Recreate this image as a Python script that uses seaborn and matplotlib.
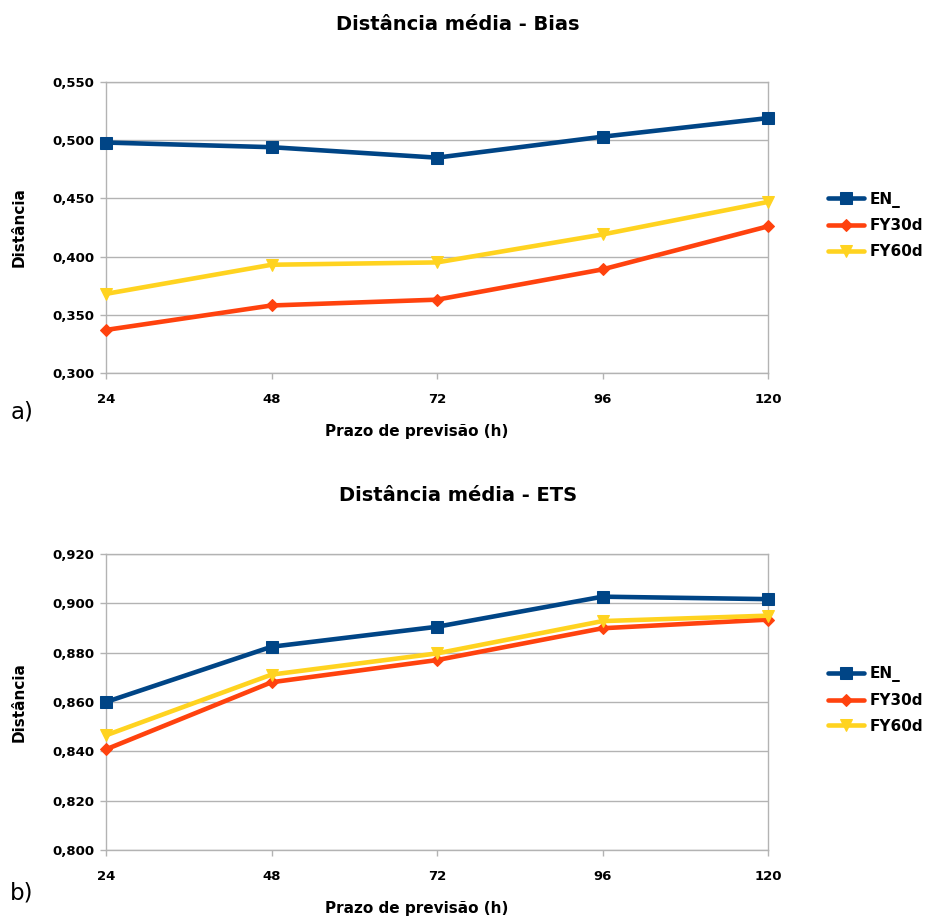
import matplotlib
matplotlib.use("Agg")
import matplotlib.pyplot as plt
import seaborn as sns
import pandas as pd
from matplotlib.ticker import FuncFormatter

sns.set_theme(style="white")
plt.rcParams['font.family'] = ['DejaVu Sans']
plt.rcParams['text.color'] = 'black'
plt.rcParams['axes.labelcolor'] = 'black'
plt.rcParams['xtick.labelcolor'] = 'black'
plt.rcParams['ytick.labelcolor'] = 'black'

hours = [24, 48, 72, 96, 120]
series = ["EN_", "FY30d", "FY60d"]
bias_en = [0.498, 0.494, 0.485, 0.503, 0.519]
bias_fy30 = [0.337, 0.358, 0.363, 0.389, 0.426]
bias_fy60 = [0.368, 0.393, 0.395, 0.419, 0.447]
ets_en = [0.860, 0.8824, 0.8905, 0.9027, 0.9017]
ets_fy30 = [0.8408, 0.868, 0.877, 0.8899, 0.8934]
ets_fy60 = [0.8465, 0.8711, 0.8797, 0.8928, 0.895]

colors = {"EN_": "#004586", "FY30d": "#ff420e", "FY60d": "#ffd320"}
markers = {"EN_": "s", "FY30d": "D", "FY60d": "v"}
msizes = {"EN_": 9, "FY30d": 6, "FY60d": 9}


def make_df(vals):
    rows = []
    for name, v in zip(series, vals):
        for h, y in zip(hours, v):
            rows.append({"h": h, "val": y, "serie": name})
    return pd.DataFrame(rows)


fig = plt.figure(figsize=(9.25, 9.17), dpi=100)
W, H = 925, 917
LEFT, RIGHT = 106, 768


def add_panel(top, bottom, df, ylim, yticks, title, title_y, xlabel_y, letter, letter_y):
    ax = fig.add_axes([LEFT / W, 1 - bottom / H, (RIGHT - LEFT) / W, (bottom - top) / H])
    for name in series:
        d = df[df.serie == name]
        sns.lineplot(data=d, x="h", y="val", ax=ax, color=colors[name], lw=3.3,
                     marker=markers[name], markersize=msizes[name],
                     markeredgecolor=colors[name], label=name, legend=False,
                     clip_on=False, zorder=3)
    ax.set_xlim(24, 120)
    ax.set_ylim(*ylim)
    ax.set_xticks(hours)
    ax.set_yticks(yticks)
    ax.yaxis.set_major_formatter(FuncFormatter(lambda v, p: f"{v:.3f}".replace(".", ",")))
    ax.grid(axis="y", color="#b3b3b3", lw=1)
    ax.set_axisbelow(True)
    for s in ax.spines.values():
        s.set_color("#b3b3b3")
        s.set_linewidth(1)
    ax.tick_params(axis="both", which="both", length=4.5, width=1, color="#b3b3b3",
                   labelsize=9.5, labelcolor="black", bottom=True, left=True)
    ax.tick_params(axis="x", pad=10)
    ax.tick_params(axis="y", pad=4)
    for lbl in ax.get_xticklabels() + ax.get_yticklabels():
        lbl.set_fontweight("bold")
    ax.set_xlabel("")
    ax.set_ylabel("")
    fig.text(458 / W, 1 - title_y / H, title, ha="center", va="center",
             fontsize=14, fontweight="bold", color="black")
    fig.text(417 / W, 1 - xlabel_y / H, "Prazo de previsão (h)", ha="center", va="center",
             fontsize=11, fontweight="bold", color="black")
    fig.text(19 / W, 1 - (top + bottom) / 2 / H, "Distância", ha="center", va="center",
             rotation=90, fontsize=11, fontweight="bold", color="black")
    fig.text(22 / W, 1 - letter_y / H, letter, ha="center", va="center", fontsize=16.5,
             color="black")
    handles, labels = ax.get_legend_handles_labels()
    leg = fig.legend(handles, labels, loc="center left",
                     bbox_to_anchor=(814 / W, 1 - ((top + bottom) / 2 - 2) / H),
                     frameon=False, prop={"weight": "bold", "size": 11},
                     handlelength=2.4, labelspacing=0.7, handletextpad=0.33)
    for t in leg.get_texts():
        t.set_color("black")
    return ax


add_panel(82, 373, make_df([bias_en, bias_fy30, bias_fy60]), (0.300, 0.550),
          [0.300, 0.350, 0.400, 0.450, 0.500, 0.550],
          "Distância média - Bias", 25, 432, "a)", 412)
add_panel(554, 850, make_df([ets_en, ets_fy30, ets_fy60]), (0.800, 0.920),
          [0.800, 0.820, 0.840, 0.860, 0.880, 0.900, 0.920],
          "Distância média - ETS", 495, 908, "b)", 893)

fig.savefig("out.png", dpi=100, facecolor="white")
